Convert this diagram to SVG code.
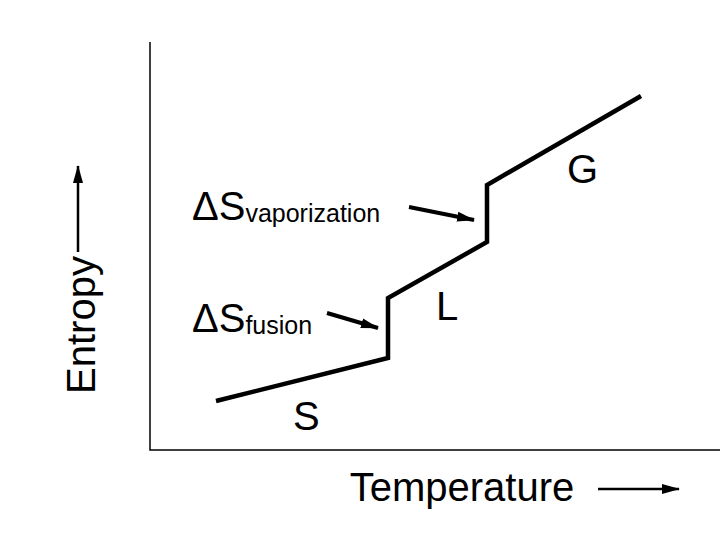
<svg xmlns="http://www.w3.org/2000/svg" width="720" height="540" viewBox="0 0 720 540">
<style>
text{font-family:"Liberation Sans",Arial,sans-serif;fill:#000}
.ax{stroke:#000;stroke-width:1.5;fill:none}
.cv{stroke:#000;stroke-width:4.5;fill:none;stroke-linejoin:miter}
.ar{stroke:#000;stroke-width:4}
.big{font-size:40px}
.sub{font-size:25px}
</style>
<defs>
<marker id="ah2" viewBox="0 0 18 12" refX="17" refY="6" markerWidth="18" markerHeight="12" orient="auto" markerUnits="userSpaceOnUse">
<path d="M0,1L18,6L0,11z" fill="#000"/>
</marker>
</defs>
<rect width="720" height="540" fill="#fff"/>
<g id="axes">
<path class="ax" d="M150,42V450H720"/>
</g>
<g id="curve">
<path class="cv" d="M216,401L388,358V298L487,242V185L641,96"/>
</g>
<g id="connectors">
<line class="ar" x1="409" y1="207" x2="474" y2="220" marker-end="url(#ah2)"/>
<line class="ar" x1="327" y1="313" x2="378" y2="328" marker-end="url(#ah2)"/>
<line x1="78" y1="252" x2="78" y2="166" stroke="#000" stroke-width="2.5" marker-end="url(#ah2)"/>
<line x1="598" y1="489" x2="679" y2="489" stroke="#000" stroke-width="2.5" marker-end="url(#ah2)"/>
</g>
<g id="labels">
<text class="big" x="192" y="220">ΔS<tspan class="sub" dy="2">vaporization</tspan></text>
<text class="big" x="192" y="332">ΔS<tspan class="sub" dy="2">fusion</tspan></text>
<text class="big" x="567" y="183">G</text>
<text class="big" x="436" y="320">L</text>
<text class="big" x="293" y="430">S</text>
<text style="font-size:40px" x="462" y="501" text-anchor="middle">Temperature</text>
<text style="font-size:40px" transform="translate(95,325) rotate(-90)" text-anchor="middle">Entropy</text>
</g>
</svg>
